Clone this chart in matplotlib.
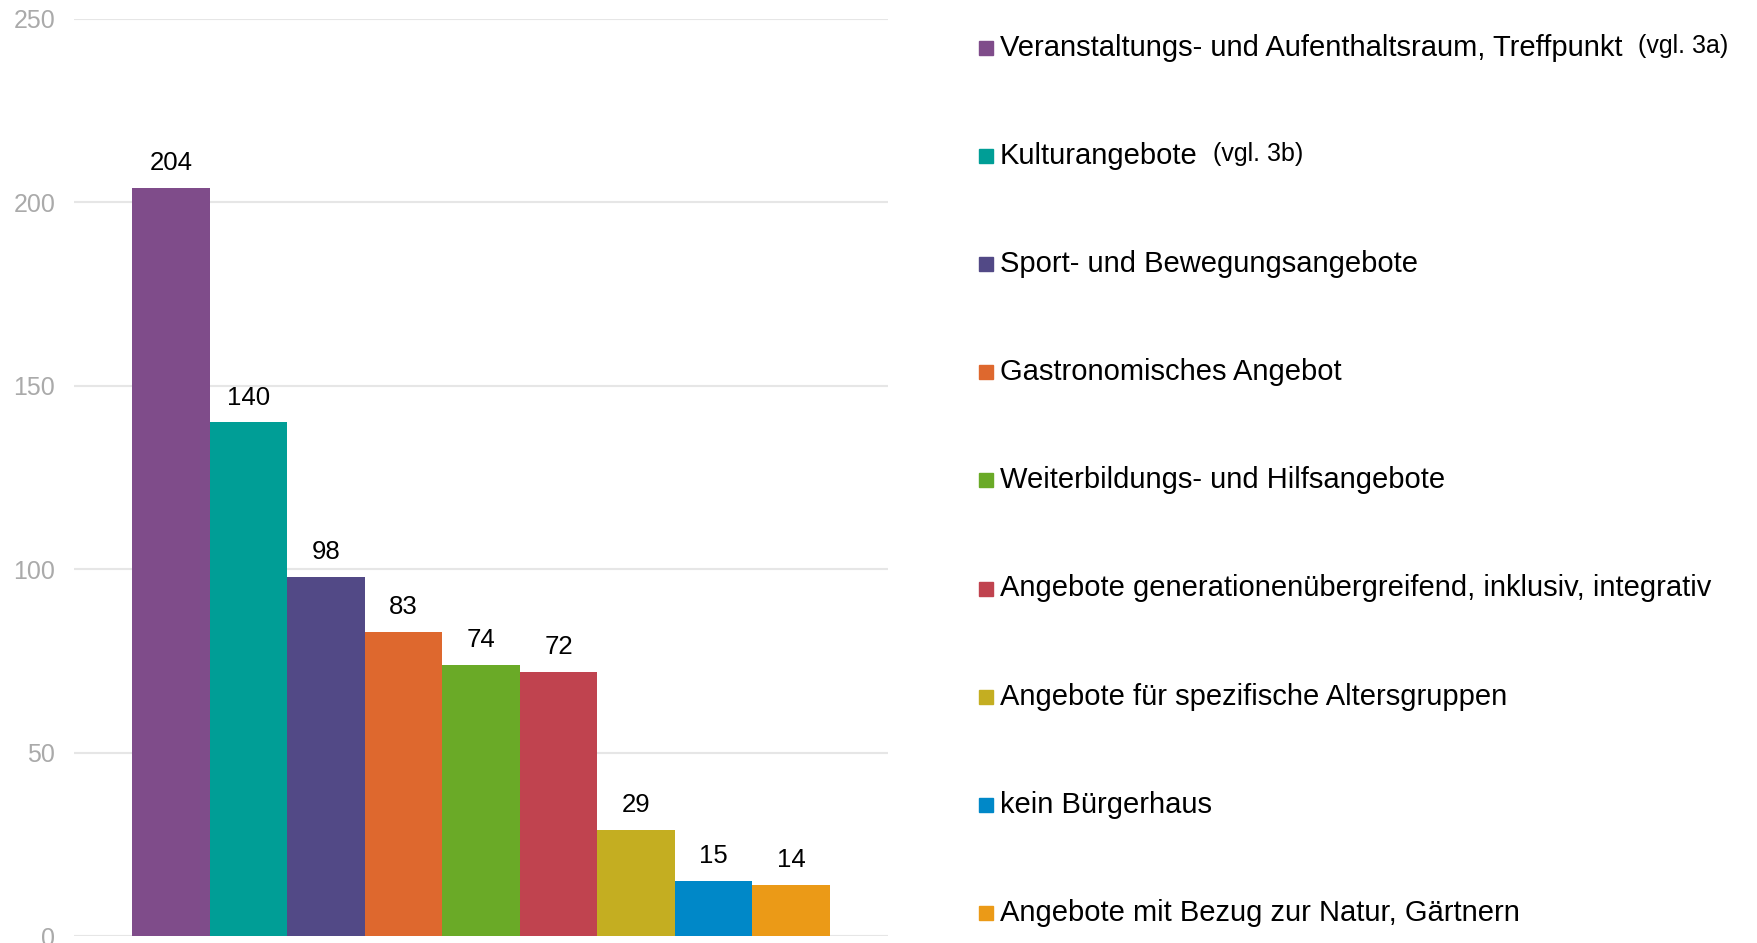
import matplotlib
matplotlib.use("Agg")
import matplotlib.pyplot as plt
from matplotlib.patches import Rectangle

categories = [
    "Veranstaltungs- und Aufenthaltsraum, Treffpunkt",
    "Kulturangebote",
    "Sport- und Bewegungsangebote",
    "Gastronomisches Angebot",
    "Weiterbildungs- und Hilfsangebote",
    "Angebote generationenübergreifend, inklusiv, integrativ",
    "Angebote für spezifische Altersgruppen",
    "kein Bürgerhaus",
    "Angebote mit Bezug zur Natur, Gärtnern",
]
notes = ["(vgl. 3a)", "(vgl. 3b)", "", "", "", "", "", "", ""]
values = [204, 140, 98, 83, 74, 72, 29, 15, 14]
colors = ["#7f4c8a", "#009e96", "#524986", "#de682e", "#6aaa27",
          "#c0434f", "#c4ae21", "#0088c8", "#eb9a17"]
yticks = [0, 50, 100, 150, 200, 250]

plt.rcParams['font.family'] = ['Liberation Sans', 'DejaVu Sans']

W, H = 1758, 943
fig = plt.figure(figsize=(W / 100, H / 100), dpi=100)
ax = fig.add_axes([74 / W, 7 / H, (888 - 74) / W, (936 - 19) / H])

x = list(range(len(values)))
ax.bar(x, values, width=1.0, color=colors, zorder=2)
for xi, v in zip(x, values):
    ax.annotate(str(v), xy=(xi, v), xytext=(0, 9), textcoords='offset points',
                ha='center', va='bottom', fontsize=18.5, color='black')

ax.set_xlim(-1.25, len(values) - 1 + 1.25)
ax.set_ylim(0, 250)
ax.set_yticks(yticks)
ax.set_yticklabels([str(t) for t in yticks], fontsize=18, color='#aaaaaa')
ax.tick_params(axis='y', length=0, pad=13.5)
ax.set_xticks([])
ax.grid(axis='y', color='#e6e6e6', linewidth=1.5, zorder=0)
for s in ax.spines.values():
    s.set_visible(False)

# legend drawn manually in pixel coordinates
lax = fig.add_axes([0, 0, 1, 1])
lax.set_xlim(0, W)
lax.set_ylim(H, 0)
lax.axis('off')
lax.patch.set_visible(False)
for i, (lab, note, c) in enumerate(zip(categories, notes, colors)):
    yc = 48 + i * 108.1
    lax.add_patch(Rectangle((979, yc - 7), 14, 14, color=c))
    t = lax.text(1000, yc, lab, fontsize=21, va='center', ha='left', color='black')
    if note:
        lax.annotate(note, xy=(1, 1), xycoords=t, xytext=(11, 0),
                     textcoords='offset points', ha='left', va='top',
                     fontsize=18, color='black')

fig.savefig("out.png", dpi=100, facecolor='white')
